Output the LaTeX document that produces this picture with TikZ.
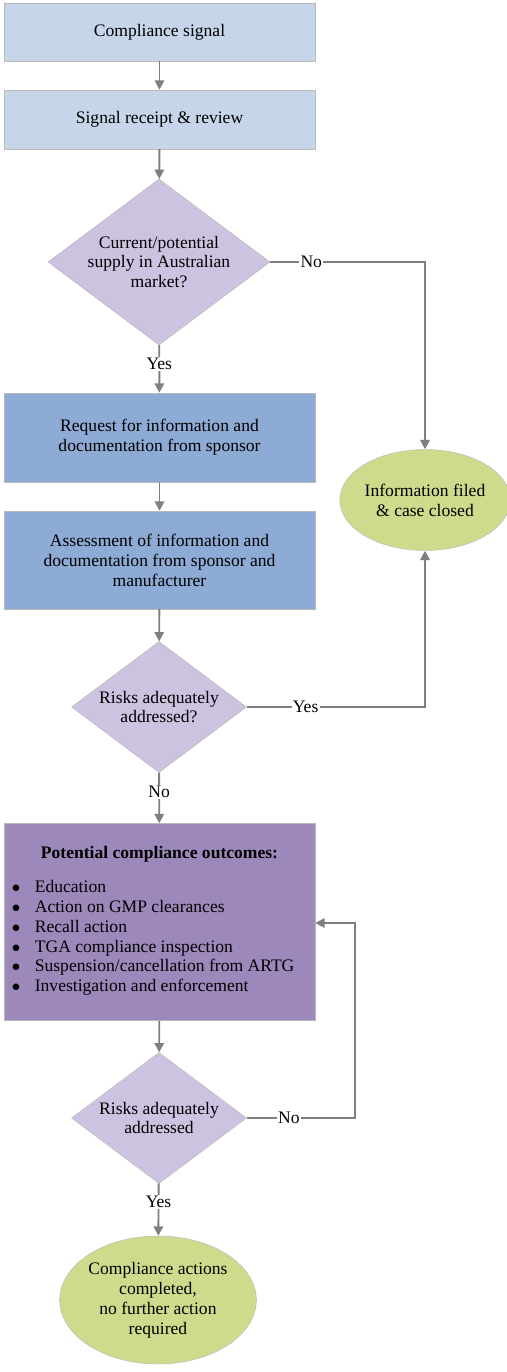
\documentclass[tikz,border=0pt]{standalone}
\usepackage{fontspec}
\setmainfont{Liberation Serif}
\usepackage{tikz}
\usetikzlibrary{arrows.meta, positioning, calc, shapes.geometric}
\usepackage{xcolor}
\definecolor{paleblue}{HTML}{C6D5EA}
\definecolor{midblue}{HTML}{8EABD5}
\definecolor{lilac}{HTML}{CDC3E0}
\definecolor{violet}{HTML}{9C88BA}
\definecolor{lime}{HTML}{CFDB8C}
\definecolor{linegray}{HTML}{7F7F7F}

\begin{document}
\begin{tikzpicture}[x=0.03cm, y=-0.03cm,
    every node/.style={font=\fontsize{15}{17}\selectfont, text=black},
    stepbox/.style={rectangle, draw=gray!55, fill=#1, minimum width=9.33cm, align=center, inner sep=0pt},
    question/.style={diamond, draw=gray!55, fill=lilac, align=center, inner sep=0pt, aspect=1.3},
    closing/.style={ellipse, draw=gray!55, fill=lime, align=center, inner sep=0pt},
    flow/.style={draw=linegray, line width=1.6pt, -{Triangle[length=8pt, width=8pt]}},
    tag/.style={fill=white, inner sep=1pt}]
    \useasboundingbox (0,0) rectangle (507,1372);

    % Boxes
    \node[stepbox=paleblue, minimum height=1.74cm] (signal) at (159.5,32) {Compliance signal};
    \node[stepbox=paleblue, minimum height=1.77cm] (receipt) at (159.5,119.5) {Signal receipt \& review};
    \node[question, minimum width=6.66cm, minimum height=4.98cm] (supply) at (159,262)
        {Current/potential\\supply in Australian\\market?};
    \node[stepbox=midblue, minimum height=2.67cm] (request) at (159.5,437.5)
        {Request for information and\\documentation from sponsor};
    \node[stepbox=midblue, minimum height=2.94cm] (assess) at (159.5,560)
        {Assessment of information and\\documentation from sponsor and\\manufacturer};
    \node[question, minimum width=5.25cm, minimum height=3.93cm] (risks) at (159,707)
        {Risks adequately\\addressed?};
    \node[stepbox=violet, minimum height=5.91cm] (outcomes) at (159.5,922) {%
        \begin{minipage}{9.1cm}
        \centering\textbf{Potential compliance outcomes:}\par\vspace{0.45cm}
        \raggedright
        \begin{tabular}{@{\hspace{0.12cm}}p{0.69cm}@{}l@{}}
        $\bullet$ & Education\\
        $\bullet$ & Action on GMP clearances\\
        $\bullet$ & Recall action\\
        $\bullet$ & TGA compliance inspection\\
        $\bullet$ & Suspension/cancellation from ARTG\\
        $\bullet$ & Investigation and enforcement
        \end{tabular}
        \end{minipage}};
    \node[question, minimum width=5.25cm, minimum height=3.93cm] (recheck) at (159,1118)
        {Risks adequately\\addressed};
    \node[closing, minimum width=5.76cm, minimum height=3.84cm] (done) at (158,1300)
        {Compliance actions\\completed,\\no further action\\required};
    \node[closing, minimum width=4.56cm, minimum height=3.03cm] (filed) at (425,500)
        {Information filed\\\& case closed};

    % Main column
    \draw[flow] (signal) -- (receipt);
    \draw[flow] (receipt) -- (supply);
    \draw[flow] (supply) -- node[tag, pos=0.4] {Yes} (request);
    \draw[flow] (request) -- (assess);
    \draw[flow] (assess) -- (risks);
    \draw[flow] (risks) -- node[tag, pos=0.38] {No} (outcomes);
    \draw[flow] (outcomes) -- (recheck);
    \draw[flow] (recheck) -- node[tag, pos=0.36] {Yes} (done);

    % Branches to the right
    \draw[flow] (supply.east) -- node[tag, pos=0.265] {No} (supply.east -| filed) -- (filed);
    \draw[flow] (risks.east) -- node[tag, pos=0.33] {Yes} (risks.east -| filed) -- (filed);

    % Loop back
    \coordinate (back) at (355,923);
    \draw[flow] (recheck.east) -- node[tag, pos=0.39] {No} (recheck.east -| back) -- (back) -- (back -| outcomes.east);
\end{tikzpicture}
\end{document}
